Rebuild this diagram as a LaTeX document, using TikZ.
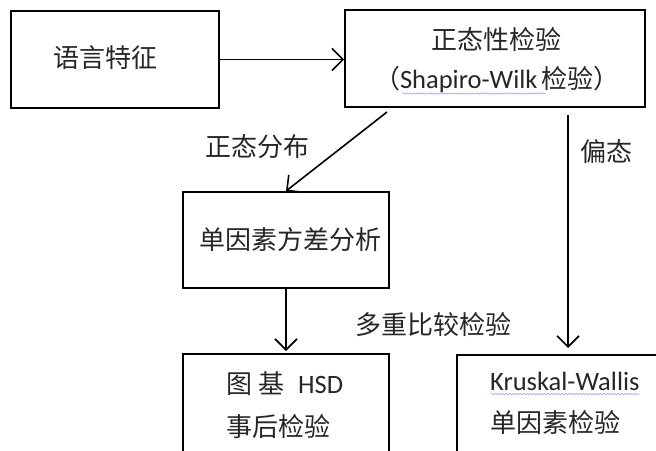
\documentclass[tikz,border=0pt]{standalone}
\usepackage{fontspec}
\setmainfont{Carlito}
\newfontfamily\cjk{Noto Sans CJK SC}
\usetikzlibrary{arrows.meta,decorations.pathmorphing}
\tikzset{
  box/.style={draw=black, line width=1.9pt, rectangle, inner sep=0pt},
  lbl/.style={inner sep=0pt, text=black!85, font=\fontsize{26.5}{32}\selectfont},
  conn/.style={line width=1.6pt, -{Straight Barb[length=11pt,width=22pt,line width=1.6pt]}},
  spell/.style={decorate, decoration={snake, amplitude=0.7pt, segment length=3.5pt}, blue!45, line width=0.5pt}
}
\begin{document}
\begin{tikzpicture}[x=1pt,y=-1pt]
\useasboundingbox (0,0) rectangle (656,450);
% boxes
\node[box, minimum width=208pt, minimum height=97pt] (b1) at (115,59.5) {};
\node[box, minimum width=300pt, minimum height=97pt] (b2) at (495,58.5) {};
\node[box, minimum width=206pt, minimum height=96pt] (b3) at (286,240) {};
\node[box, minimum width=206pt, minimum height=100pt] (b4) at (286,404) {};
\node[box, minimum width=204pt, minimum height=100pt] (b5) at (559,405) {};
% box texts
\node[lbl] (t1) at (105,58) {\cjk\fontsize{26}{30}\selectfont 语言特征};
\node[lbl] (t2a) at (496,40) {\cjk\fontsize{26}{30}\selectfont 正态性检验};
\node[lbl] (t2b) at (497,80) {{\cjk\fontsize{26}{30}\selectfont （}Shapiro-Wilk\,{\cjk\fontsize{26}{30}\selectfont 检验）}};
\node[lbl] (t3) at (290,240) {\cjk\fontsize{26}{30}\selectfont 单因素方差分析};
\node[lbl, anchor=west] (t4a) at (226,384) {{\cjk\fontsize{26}{30}\selectfont 图\hspace{6pt}基}\hspace{14pt}HSD};
\node[lbl, anchor=west] (t4b) at (226,427) {\cjk\fontsize{26}{30}\selectfont 事后检验};
\node[lbl, anchor=west] (t5a) at (490,381) {Kruskal-Wallis};
\node[lbl, anchor=west] (t5b) at (490,423) {\cjk\fontsize{26}{30}\selectfont 单因素检验};
% spell underlines
\draw[spell] (402,93.5) -- (545,93.5);
\draw[spell] (491,394) -- (640,394);
% edge labels
\node[lbl] (l1) at (257,147) {\cjk\fontsize{26}{30}\selectfont 正态分布};
\node[lbl] (l2) at (606,152) {\cjk\fontsize{26}{30}\selectfont 偏态};
\node[lbl] (l3) at (433,325) {\cjk\fontsize{26}{30}\selectfont 多重比较检验};
% connectors
\coordinate (d1) at (387,112);
\coordinate (r1) at (568,115);
\coordinate (r2) at (568,348);
\coordinate (m2) at (286,351);
\draw[conn] (b1.east) -- (b1.east -| b2.west);
\draw[conn] (d1) -- (b3.north);
\draw[conn] (r1) -- (r2);
\draw[conn] (b3.south) -- (m2);
\end{tikzpicture}
\end{document}
